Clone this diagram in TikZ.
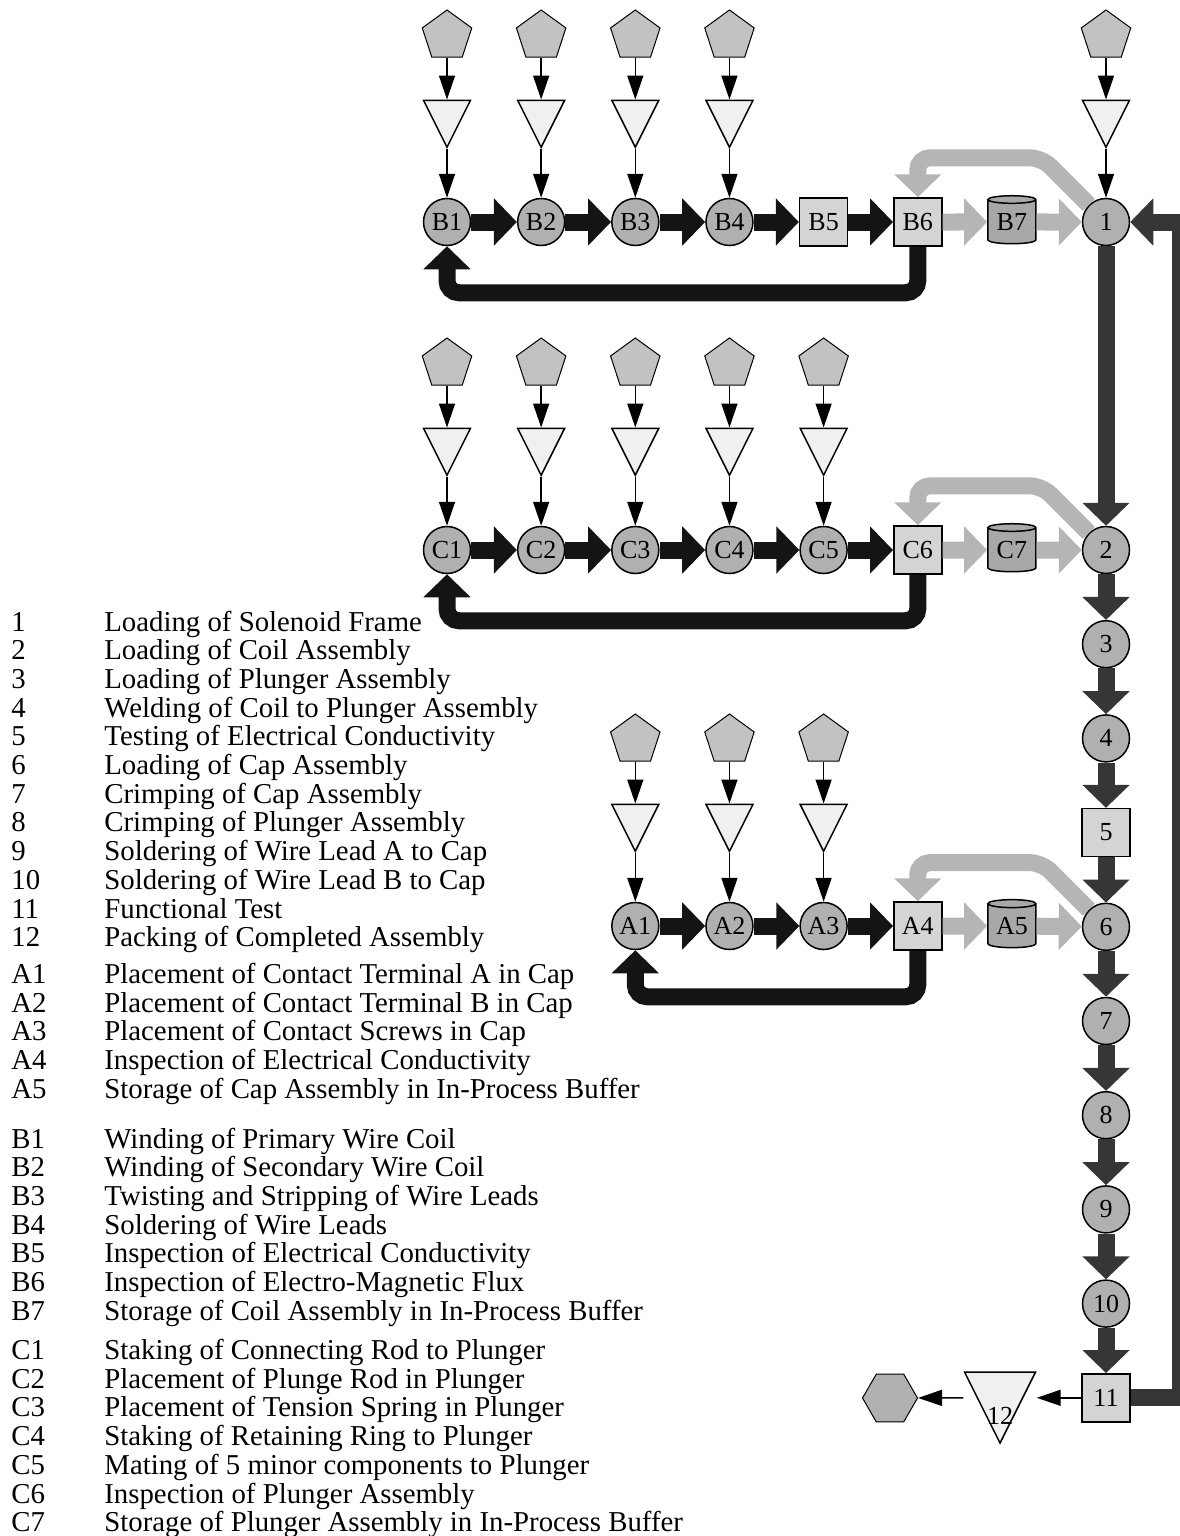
\documentclass[tikz,border=0pt]{standalone}
\usepackage{fontspec}
\setmainfont{Liberation Serif}
\usetikzlibrary{shapes.geometric,arrows.meta,positioning}

\definecolor{opfill}{gray}{0.69}
\definecolor{supfill}{gray}{0.76}
\definecolor{inspfill}{gray}{0.83}
\definecolor{storefill}{gray}{0.94}
\definecolor{buffill}{gray}{0.66}
\definecolor{subblack}{gray}{0.08}
\definecolor{buflight}{gray}{0.71}
\definecolor{maindark}{gray}{0.21}

\tikzset{
  opnode/.style={circle,draw,line width=0.75pt,fill=opfill,minimum size=23.5pt,inner sep=0pt,font=\fontsize{13}{13}\selectfont},
  insp/.style={rectangle,draw,line width=0.75pt,fill=inspfill,minimum size=24pt,inner sep=0pt,font=\fontsize{13}{13}\selectfont},
  buffer/.style={cylinder,shape border rotate=90,aspect=0.25,draw,line width=0.75pt,cylinder uses custom fill,cylinder body fill=buffill,cylinder end fill=buffill,minimum width=24pt,minimum height=24pt,inner sep=0pt,font=\fontsize{13}{13}\selectfont},
  supply/.style={regular polygon,regular polygon sides=5,draw,line width=0.5pt,fill=supfill,minimum size=26pt,inner sep=0pt},
  store/.style={isosceles triangle,isosceles triangle stretches,shape border rotate=270,draw,line width=0.75pt,fill=storefill,minimum width=23.5pt,minimum height=23.5pt,inner sep=0pt},
  shipped/.style={regular polygon,regular polygon sides=6,draw,line width=0.5pt,fill=opfill,minimum size=27.5pt,inner sep=0pt},
  feed/.style={-{Triangle[length=12pt,width=8pt]},line width=0.75pt},
  subflow/.style={-{Triangle[length=11.5pt,width=23pt]},line width=8.5pt,draw=subblack},
  bufflow/.style={-{Triangle[length=11.5pt,width=23pt]},line width=8.5pt,draw=buflight},
  mainflow/.style={-{Triangle[length=11.5pt,width=23pt]},line width=8.5pt,draw=maindark},
  legend/.style={anchor=base west,inner sep=0pt,font=\fontsize{14.4}{14.4}\selectfont}
}

\begin{document}
\begin{tikzpicture}[x=0.5pt,y=-0.5pt]
  \useasboundingbox (0,0) rectangle (1179,1536);

  % Main line stations
  \node[opnode] (n1) at (1106,222) {1};
  \node[opnode] (n2) at (1106,550) {2};
  \foreach \k in {3,4,6,7,8,9,10}
    \node[opnode] (n\k) at (1106,{550+(\k-2)*94.2}) {\k};
  \node[insp] (n5) at (1106,{550+3*94.2}) {5};
  \node[insp] (n11) at (1106,{550+9*94.2}) {11};

  % Coil sub-assembly line
  \foreach \k in {1,...,4}
    \node[opnode] (B\k) at ({447+(\k-1)*94.15},222) {B\k};
  \node[insp] (B5) at (823.6,222) {B5};
  \node[insp] (B6) at (917.8,222) {B6};
  \node[buffer] (B7) at (1011.9,222) {B7};

  % Plunger sub-assembly line
  \foreach \k in {1,...,5}
    \node[opnode] (C\k) at ({447+(\k-1)*94.15},550) {C\k};
  \node[insp] (C6) at (917.8,550) {C6};
  \node[buffer] (C7) at (1011.9,550) {C7};

  % Cap sub-assembly line
  \foreach \k in {1,2,3}
    \node[opnode] (A\k) at ({635.3+(\k-1)*94.15},926) {A\k};
  \node[insp] (A4) at (917.8,926) {A4};
  \node[buffer] (A5) at (1011.9,926) {A5};

  % Parts supply and storage above the stations
  \foreach \s in {B1,B2,B3,B4,n1,C1,C2,C3,C4,C5,A1,A2,A3} {
    \node[store,anchor=apex] (t\s) at ([yshift=24.25pt]\s.north) {};
    \node[supply] (p\s) at ([yshift=93pt]\s.center) {};
    \draw[feed] (p\s) -- (t\s);
    \draw[feed] (t\s) -- (\s);
  }

  % Flow inside the sub-assembly lines
  \foreach \a/\b in {B1/B2,B2/B3,B3/B4,B4/B5,B5/B6,C1/C2,C2/C3,C3/C4,C4/C5,C5/C6,A1/A2,A2/A3,A3/A4}
    \draw[subflow] (\a) -- (\b);
  \draw[subflow,rounded corners=6pt] (B6.south) -- ++(0,46) -| (B1.south);
  \draw[subflow,rounded corners=6pt] (C6.south) -- ++(0,46) -| (C1.south);
  \draw[subflow,rounded corners=6pt] (A4.south) -- ++(0,46) -| (A1.south);

  % Buffers into the main line, and rework back
  \foreach \a/\b in {B6/B7,B7/n1,C6/C7,C7/n2,A4/A5,A5/n6}
    \draw[bufflow] (\a) -- (\b);
  \draw[bufflow,rounded corners=6pt] (n1.north west) -- ++(-47,-47) -| (B6.north);
  \draw[bufflow,rounded corners=6pt] (n2.north west) -- ++(-47,-47) -| (C6.north);
  \draw[bufflow,rounded corners=6pt] (n6.north west) -- ++(-47,-47) -| (A4.north);

  % Main line
  \foreach \a/\b in {n1/n2,n2/n3,n3/n4,n4/n5,n5/n6,n6/n7,n7/n8,n8/n9,n9/n10,n10/n11}
    \draw[mainflow] (\a) -- (\b);
  \draw[mainflow] (n11.east) -- ++(50,0) |- (n1.east);

  % Packing and shipping
  \node[store,anchor=apex,minimum width=35.5pt,minimum height=35.5pt,
        label={[name=l12,font=\fontsize{13}{13}\selectfont,yshift=-11pt]center:12}] (n12) at (1000,1445) {};
  \node[shipped] (ship) at (890,1398) {};
  \draw[feed] (n11) -- (n11 -| n12.left corner);
  \draw[feed] (n11 -| n12.right corner) -- (ship);

  % Legend
  \foreach \lab/\txt [count=\i from 0] in {1/Loading of Solenoid Frame,2/Loading of Coil Assembly,3/Loading of Plunger Assembly,4/Welding of Coil to Plunger Assembly,5/Testing of Electrical Conductivity,6/Loading of Cap Assembly,7/Crimping of Cap Assembly,8/Crimping of Plunger Assembly,9/Soldering of Wire Lead A to Cap,10/Soldering of Wire Lead B to Cap,11/Functional Test,12/Packing of Completed Assembly} {
    \node[legend] (lab\i) at (11,{631+\i*28.7}) {\lab};
    \node[legend] (txt\i) at (104,{631+\i*28.7}) {\txt};
  }
  \foreach \lab/\txt [count=\i from 0] in {A1/Placement of Contact Terminal A in Cap,A2/Placement of Contact Terminal B in Cap,A3/Placement of Contact Screws in Cap,A4/Inspection of Electrical Conductivity,A5/Storage of Cap Assembly in In-Process Buffer} {
    \node[legend] (labA\i) at (11,{983.5+\i*28.7}) {\lab};
    \node[legend] (txtA\i) at (104,{983.5+\i*28.7}) {\txt};
  }
  \foreach \lab/\txt [count=\i from 0] in {B1/Winding of Primary Wire Coil,B2/Winding of Secondary Wire Coil,B3/Twisting and Stripping of Wire Leads,B4/Soldering of Wire Leads,B5/Inspection of Electrical Conductivity,B6/Inspection of Electro-Magnetic Flux,B7/Storage of Coil Assembly in In-Process Buffer} {
    \node[legend] (labB\i) at (11,{1148+\i*28.7}) {\lab};
    \node[legend] (txtB\i) at (104,{1148+\i*28.7}) {\txt};
  }
  \foreach \lab/\txt [count=\i from 0] in {C1/Staking of Connecting Rod to Plunger,C2/Placement of Plunge Rod in Plunger,C3/Placement of Tension Spring in Plunger,C4/Staking of Retaining Ring to Plunger,C5/Mating of 5 minor components to Plunger,C6/Inspection of Plunger Assembly,C7/Storage of Plunger Assembly in In-Process Buffer} {
    \node[legend] (labC\i) at (11,{1359.5+\i*28.7}) {\lab};
    \node[legend] (txtC\i) at (104,{1359.5+\i*28.7}) {\txt};
  }
\end{tikzpicture}
\end{document}
